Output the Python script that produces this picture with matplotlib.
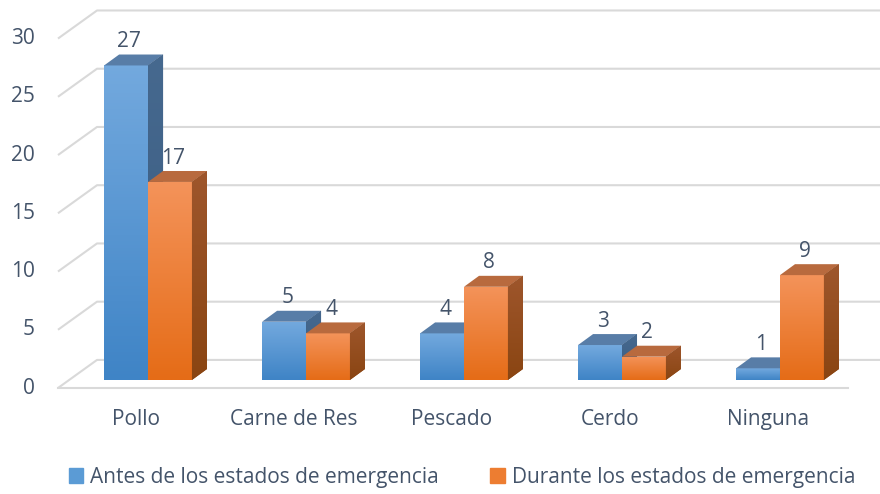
import numpy as np
import matplotlib.pyplot as plt
from matplotlib.patches import Polygon, Rectangle
from matplotlib.colors import LinearSegmentedColormap

# data
categories = ["Pollo", "Carne de Res", "Pescado", "Cerdo", "Ninguna"]
antes = [27, 5, 4, 3, 1]
durante = [17, 4, 8, 2, 9]
series_names = ["Antes de los estados de emergencia",
                "Durante los estados de emergencia"]
y_ticks = [0, 5, 10, 15, 20, 25, 30]

plt.rcParams['font.family'] = ['Open Sans', 'DejaVu Sans']
text_color = '#44546A'
grid_color = '#D9D9D9'
fs = 15

# colours: front top/bottom, top face, side top/bottom
styles = [
    dict(front=('#73A9DE', '#3F84C6'), top='#587DA7', side=('#46698F', '#3A5B80'),
         legend='#5B9BD5'),
    dict(front=('#F4935A', '#E56C17'), top='#B86A3E', side=('#9E562C', '#8A4512'),
         legend='#ED7D31'),
]

fig = plt.figure(figsize=(8.8, 4.94), dpi=100)
ax = fig.add_axes([0, 0, 1, 1])
ax.axis('off')

bar_w = 0.278
dx, dy = 0.095, 0.94        # depth of each bar
gx0, gx1 = -0.57, -0.323    # left edge of grid, front and back
gy_front, gy_back = -0.69, 1.72

# back wall gridlines and side diagonals
for v in y_ticks:
    ax.plot([gx0, gx1, 4.8], [v + gy_front, v + gy_back, v + gy_back],
            color=grid_color, lw=1.5, zorder=0, solid_capstyle='butt')
    ax.text(-0.715, v + gy_front, str(v), ha='right', va='center',
            fontsize=fs, color=text_color)
# floor front edge
ax.plot([gx0, 4.43], [gy_front, gy_front], color=grid_color, lw=1.5, zorder=0)


def gradient(c1, c2):
    return LinearSegmentedColormap.from_list('g', [c2, c1])


x = np.arange(len(categories))
grad = np.linspace(0, 1, 100).reshape(-1, 1)
for s, (vals, st) in enumerate(zip([antes, durante], styles)):
    z = 2 + s * 3
    lefts = x - bar_w + s * bar_w
    bars = ax.bar(lefts, vals, width=bar_w, align='edge', color=st['front'][1],
                  zorder=z)
    for b, left, v in zip(bars, lefts, vals):
        im = ax.imshow(grad, cmap=gradient(*st['front']), origin='lower',
                       extent=[left, left + bar_w, 0, v], aspect='auto',
                       zorder=z + 0.1)
        im.set_clip_path(b)
        # top face
        ax.add_patch(Polygon([[left, v], [left + bar_w, v],
                              [left + bar_w + dx, v + dy], [left + dx, v + dy]],
                             closed=True, facecolor=st['top'], edgecolor='none',
                             zorder=z + 0.2))
        # side face
        side = Polygon([[left + bar_w, 0], [left + bar_w, v],
                        [left + bar_w + dx, v + dy], [left + bar_w + dx, dy]],
                       closed=True, facecolor=st['side'][1], edgecolor='none',
                       zorder=z + 0.2)
        ax.add_patch(side)
        im2 = ax.imshow(grad, cmap=gradient(*st['side']), origin='lower',
                        extent=[left + bar_w, left + bar_w + dx, 0, v + dy],
                        aspect='auto', zorder=z + 0.25)
        im2.set_clip_path(side)
        ax.text(left + bar_w / 2 + 0.02, v + 2.05, str(v), ha='center',
                va='center', fontsize=fs, color=text_color, zorder=10)

# category labels sit on the front floor edge, a bit left of the bar pair
for xi, cat in zip(x, categories):
    ax.text(xi - 0.076, -3.43, cat, ha='center', va='center', fontsize=fs,
            color=text_color)

ax.set_xlim(-0.937, 4.633)
ax.set_ylim(-9.79, 32.62)

handles = [Rectangle((0, 0), 1, 1, color=st['legend']) for st in styles]
fig.legend(handles, series_names, loc='center', bbox_to_anchor=(0.525, 0.034),
           ncol=2, frameon=False, fontsize=fs, labelcolor=text_color,
           handlelength=0.7, handleheight=0.7, handletextpad=0.33,
           columnspacing=2.45)

fig.savefig('out.png', dpi=100)
